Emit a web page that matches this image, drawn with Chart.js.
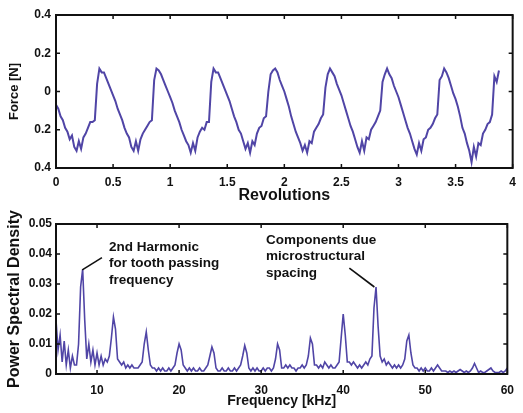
<!DOCTYPE html>
<html>
<head>
<meta charset="utf-8">
<script src="https://cdn.jsdelivr.net/npm/chart.js@4"></script>
<style>
body{margin:0;background:#fff;width:523px;height:413px;overflow:hidden;position:relative}
canvas{position:absolute;left:0}
#canva1{top:0}
#canva2{top:200px}
</style>
</head>
<body>
<canvas id="canva2" width="523" height="213"></canvas>
<canvas id="canva1" width="523" height="210"></canvas>
<script>
// forca medida, amostras a cada 0.02 rev a partir de 0
var revInicio = 0
var revPasso = 0.02
var forca = [
-0.07,-0.09,-0.13,-0.15,-0.19,-0.21,-0.25,-0.23,-0.29,-0.31,-0.26,-0.30,-0.24,-0.22,-0.19,-0.16,-0.16,-0.15,0.04,0.12,0.10,0.10,0.07,0.04,0.01,
-0.02,-0.05,-0.09,-0.12,-0.15,-0.19,-0.22,-0.24,-0.29,-0.31,-0.26,-0.31,-0.25,-0.22,-0.20,-0.18,-0.16,-0.15,0.06,0.12,0.11,0.09,0.06,0.03,0.00,
-0.03,-0.06,-0.10,-0.13,-0.16,-0.20,-0.23,-0.26,-0.28,-0.32,-0.27,-0.31,-0.24,-0.21,-0.19,-0.20,-0.16,-0.16,0.05,0.12,0.10,0.10,0.07,0.04,0.01,
-0.02,-0.05,-0.09,-0.13,-0.16,-0.20,-0.22,-0.26,-0.30,-0.27,-0.32,-0.26,-0.28,-0.22,-0.19,-0.18,-0.14,-0.13,0.00,0.09,0.11,0.12,0.10,0.06,0.03,
0.00,-0.04,-0.08,-0.13,-0.17,-0.21,-0.24,-0.27,-0.31,-0.28,-0.32,-0.26,-0.27,-0.21,-0.19,-0.17,-0.14,-0.12,0.02,0.09,0.12,0.10,0.08,0.04,0.01,
-0.02,-0.06,-0.10,-0.14,-0.18,-0.21,-0.25,-0.29,-0.32,-0.26,-0.31,-0.24,-0.25,-0.20,-0.18,-0.16,-0.13,-0.10,0.05,0.09,0.12,0.09,0.07,0.03,0.00,
-0.03,-0.07,-0.11,-0.15,-0.19,-0.22,-0.26,-0.30,-0.33,-0.27,-0.31,-0.25,-0.24,-0.20,-0.19,-0.17,-0.14,-0.12,0.06,0.08,0.12,0.10,0.07,0.03,-0.01,
-0.04,-0.08,-0.13,-0.19,-0.22,-0.27,-0.31,-0.37,-0.29,-0.34,-0.27,-0.28,-0.22,-0.20,-0.17,-0.16,-0.12,0.08,0.05,0.11
]
var revTicks = [0,0.5,1,1.5,2,2.5,3,3.5,4]
var revTickLabels = ['0','0.5','1','1.5','2','2.5','3','3.5','4']
var forcaTicks = [-0.4,-0.2,0,0.2,0.4]
var forcaTickLabels = ['0.4','0.2','0','0.2','0.4']

// espectro, amostras a cada 0.25 kHz a partir de 5
var freqInicio = 5
var freqPasso = 0.25
var psd = [
0.018,0.008,0.013,0.004, 0.011,0.003,0.008,0.002, 0.006,0.003,0.003,0.010,
0.029,0.035,0.018,0.005, 0.010,0.004,0.008,0.003, 0.007,0.003,0.006,0.003,
0.005,0.004,0.006,0.012, 0.019,0.015,0.005,0.004, 0.003,0.004,0.002,0.003,
0.002,0.003,0.002,0.002, 0.002,0.003,0.004,0.010, 0.014,0.008,0.003,0.002,
0.002,0.001,0.002,0.001, 0.002,0.001,0.001,0.002, 0.001,0.002,0.003,0.007,
0.010,0.008,0.003,0.002, 0.001,0.002,0.001,0.002, 0.001,0.001,0.002,0.001,
0.001,0.002,0.003,0.006, 0.009,0.007,0.002,0.001, 0.001,0.002,0.001,0.001,
0.002,0.001,0.001,0.002, 0.001,0.002,0.003,0.006, 0.0095,0.007,0.002,0.001,
0.002,0.001,0.002,0.001, 0.001,0.002,0.001,0.002, 0.002,0.001,0.002,0.005,
0.010,0.008,0.002,0.002, 0.003,0.002,0.003,0.002, 0.002,0.001,0.002,0.002,
0.003,0.002,0.003,0.006, 0.012,0.010,0.003,0.003, 0.002,0.003,0.002,0.004,
0.003,0.002,0.003,0.002, 0.002,0.003,0.004,0.012, 0.020,0.013,0.004,0.004,
0.003,0.004,0.003,0.002, 0.003,0.002,0.003,0.004, 0.003,0.005,0.006,0.022,
0.029,0.016,0.006,0.004, 0.005,0.003,0.004,0.003, 0.002,0.003,0.002,0.003,
0.002,0.003,0.005,0.011, 0.013,0.007,0.003,0.002, 0.002,0.001,0.002,0.001,
0.002,0.001,0.001,0.002, 0.001,0.002,0.003,0.002, 0.001,0.001,0.001,0.0005,
0.001,0.0005,0.001,0.0005, 0.001,0.0015,0.001,0.0005, 0.001,0.0005,0.001,0.002,
0.0035,0.002,0.0005,0.001, 0.0005,0.0005,0.001,0.0015, 0.002,0.001,0.0005,0.0005,
0.0005,0.001,0.0005,0.001, 0.002
]
var freqTicks = [10,20,30,40,50,60]
var freqTickLabels = ['10','20','30','40','50','60']
var psdTicks = [0,0.01,0.02,0.03,0.04,0.05]
var psdTickLabels = ['0','0.01','0.02','0.03','0.04','0.05']

// anotacoes do espectro
var notas = [
{linhas: ['2nd Harmonic','for tooth passing','frequency'], x: 11.45, y: 0.0423, de: [8.2,0.0347], ate: [10.6,0.0388]},
{linhas: ['Components due','microstructural','spacing'], x: 30.6, y: 0.0447, de: [43.8,0.029], ate: [40.75,0.0353]}
]

var corLinha = '#5045a6'
var fonte = 'Liberation Sans, Arial, sans-serif'

// moldura com ticks para dentro (estilo matlab)
var moldura = {
id: 'moldura',
afterDraw: function(chart){
var ctx = chart.ctx
var a = chart.chartArea
var sx = chart.scales.x
var sy = chart.scales.y
ctx.save()
ctx.strokeStyle = '#111'
ctx.lineWidth = 1.5
ctx.beginPath()
sx.ticks.forEach(function(t){
var p = sx.getPixelForValue(t.value)
ctx.moveTo(p, a.bottom); ctx.lineTo(p, a.bottom - 4)
ctx.moveTo(p, a.top); ctx.lineTo(p, a.top + 4)
})
sy.ticks.forEach(function(t){
var p = sy.getPixelForValue(t.value)
ctx.moveTo(a.left, p); ctx.lineTo(a.left + 4, p)
ctx.moveTo(a.right, p); ctx.lineTo(a.right - 4, p)
})
ctx.stroke()
ctx.lineWidth = 2
ctx.strokeRect(a.left, a.top, a.right - a.left, a.bottom - a.top)
ctx.restore()
}
}

var anotacoes = {
id: 'anotacoes',
afterDatasetsDraw: function(chart){
var ctx = chart.ctx
var sx = chart.scales.x
var sy = chart.scales.y
ctx.save()
ctx.fillStyle = '#111'
ctx.strokeStyle = '#111'
ctx.lineWidth = 1.6
ctx.font = 'bold 13.5px ' + fonte
ctx.textBaseline = 'middle'
for(var i = 0; i < notas.length; i++){
var n = notas[i]
for(var k = 0; k < n.linhas.length; k++){
ctx.fillText(n.linhas[k], sx.getPixelForValue(n.x), sy.getPixelForValue(n.y) + k * 16.5)
}
ctx.beginPath()
ctx.moveTo(sx.getPixelForValue(n.de[0]), sy.getPixelForValue(n.de[1]))
ctx.lineTo(sx.getPixelForValue(n.ate[0]), sy.getPixelForValue(n.ate[1]))
ctx.stroke()
}
ctx.restore()
}
}

function fixarTicks(valores){
return function(scale){
scale.ticks = valores.map(function(v){ return {value: v} })
}
}

function eixo(min, max, valores, rotulos, titulo, tamanho, extra){
var e = {
type: 'linear',
min: min,
max: max,
grid: {display: false, drawTicks: false},
border: {display: false},
afterBuildTicks: fixarTicks(valores),
ticks: {
color: '#111',
font: {family: fonte, size: 12, weight: 'bold'},
padding: extra.padding,
maxRotation: 0,
autoSkip: false,
callback: function(v){
var i = valores.indexOf(v)
return i >= 0 ? rotulos[i] : ''
}
},
title: {display: true, text: titulo, color: '#111', font: {family: fonte, size: tamanho, weight: 'bold', lineHeight: 1.2}, padding: extra.titlePad},
afterFit: function(scale){
if(extra.width) scale.width = extra.width
if(extra.height) scale.height = extra.height
}
}
return e
}

function plotarForca(){
var pontos = []
for(var i = 0; i < forca.length; i++){
pontos.push({x: revInicio + i * revPasso, y: forca[i]})
}
var config = {
type: 'line',
data: {
datasets: [{
label: 'Force',
data: pontos,
borderColor: corLinha,
borderWidth: 2,
pointRadius: 0,
tension: 0
}]
},
options: {
responsive: false,
animation: false,
layout: {padding: {top: 15, right: 7, left: 0, bottom: 0}},
plugins: {legend: {display: false}, tooltip: {enabled: false}},
scales: {
x: eixo(0, 4, revTicks, revTickLabels, 'Revolutions', 16, {height: 42, padding: 7, titlePad: {top: 0, bottom: 5}}),
y: eixo(-0.4, 0.4, forcaTicks, forcaTickLabels, 'Force [N]', 13, {width: 56, padding: 5, titlePad: {top: 7, bottom: 0}})
}
},
plugins: [moldura]
}
var ctx = document.getElementById('canva1').getContext('2d')
new Chart(ctx, config)
}

function plotarEspectro(){
var pontos = []
for(var i = 0; i < psd.length; i++){
pontos.push({x: freqInicio + i * freqPasso, y: psd[i]})
}
var config = {
type: 'line',
data: {
datasets: [{
label: 'PSD',
data: pontos,
borderColor: corLinha,
borderWidth: 1.6,
pointRadius: 0,
tension: 0
}]
},
options: {
responsive: false,
animation: false,
layout: {padding: {top: 24, right: 7, left: 0, bottom: 0}},
plugins: {legend: {display: false}, tooltip: {enabled: false}},
scales: {
x: eixo(5, 60, freqTicks, freqTickLabels, 'Frequency [kHz]', 14, {height: 39, padding: 9, titlePad: {top: 0, bottom: 3}}),
y: eixo(0, 0.05, psdTicks, psdTickLabels, 'Power Spectral Density', 16, {width: 56, padding: 4, titlePad: {top: 5, bottom: 0}})
}
},
plugins: [moldura, anotacoes]
}
var ctx = document.getElementById('canva2').getContext('2d')
new Chart(ctx, config)
}

plotarForca()
plotarEspectro()
</script>
</body>
</html>
